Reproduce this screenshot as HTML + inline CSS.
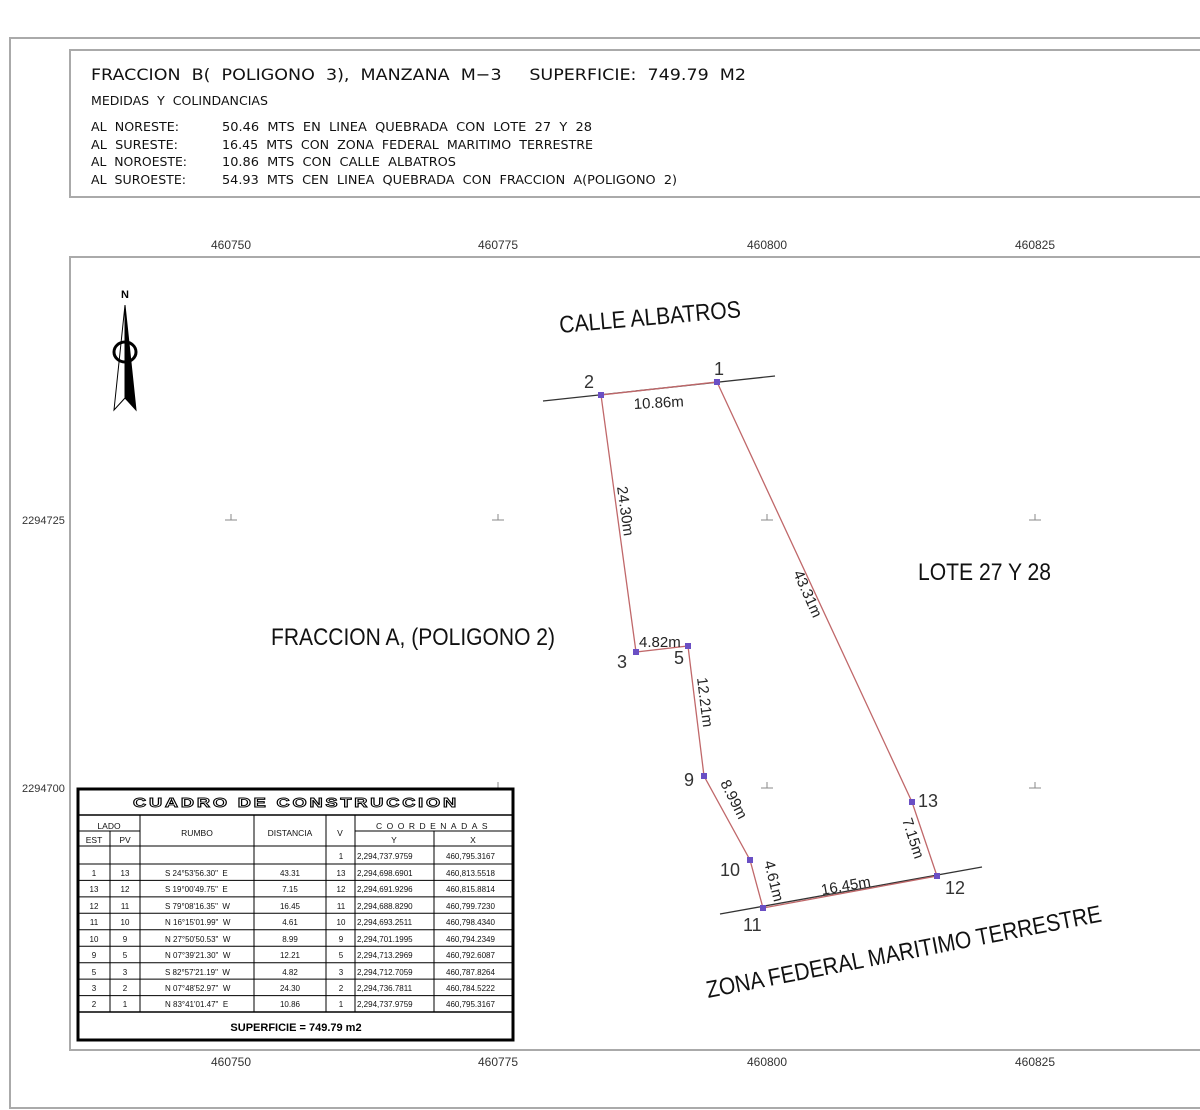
<!DOCTYPE html>
<html><head><meta charset="utf-8"><style>
html,body{margin:0;padding:0;background:#fff;}
svg{display:block;}
text{font-family:"Liberation Sans",sans-serif;white-space:pre;}
.h text{font-family:"DejaVu Sans","Liberation Sans",sans-serif;}
</style></head><body>
<svg width="1200" height="1110" viewBox="0 0 1200 1110" xmlns="http://www.w3.org/2000/svg" xml:space="preserve">
<polyline points="1200,38 10,38 10,1108 1200,1108" fill="none" stroke="#aaa" stroke-width="2"/>
<polyline points="1200,50 70,50 70,197 1200,197" fill="none" stroke="#aaa" stroke-width="2"/>
<polyline points="1200,257 70,257 70,1050 1200,1050" fill="none" stroke="#aaa" stroke-width="2"/>

<g class="h" fill="#111">
<text x="91" y="80" font-size="16" textLength="655" lengthAdjust="spacingAndGlyphs">FRACCION  B(  POLIGONO  3),  MANZANA  M−3     SUPERFICIE:  749.79  M2</text>
<text x="91" y="105" font-size="12" textLength="177" lengthAdjust="spacingAndGlyphs">MEDIDAS  Y  COLINDANCIAS</text>
<text x="91" y="131" font-size="12.5" textLength="88" lengthAdjust="spacingAndGlyphs">AL  NORESTE:</text>
<text x="91" y="149" font-size="12.5" textLength="87" lengthAdjust="spacingAndGlyphs">AL  SURESTE:</text>
<text x="91" y="166" font-size="12.5" textLength="96" lengthAdjust="spacingAndGlyphs">AL  NOROESTE:</text>
<text x="91" y="184" font-size="12.5" textLength="95" lengthAdjust="spacingAndGlyphs">AL  SUROESTE:</text>
<text x="222" y="131" font-size="12.5" textLength="370" lengthAdjust="spacingAndGlyphs">50.46  MTS  EN  LINEA  QUEBRADA  CON  LOTE  27  Y  28</text>
<text x="222" y="149" font-size="12.5" textLength="371" lengthAdjust="spacingAndGlyphs">16.45  MTS  CON  ZONA  FEDERAL  MARITIMO  TERRESTRE</text>
<text x="222" y="166" font-size="12.5" textLength="234" lengthAdjust="spacingAndGlyphs">10.86  MTS  CON  CALLE  ALBATROS</text>
<text x="222" y="184" font-size="12.5" textLength="455" lengthAdjust="spacingAndGlyphs">54.93  MTS  CEN  LINEA  QUEBRADA  CON  FRACCION  A(POLIGONO  2)</text>
</g>

<g font-size="12" fill="#333" text-anchor="middle">
<text x="231" y="249">460750</text><text x="498" y="249">460775</text><text x="767" y="249">460800</text><text x="1035" y="249">460825</text>
<text x="231" y="1066">460750</text><text x="498" y="1066">460775</text><text x="767" y="1066">460800</text><text x="1035" y="1066">460825</text>
</g>
<g font-size="11" fill="#333"><text x="22" y="524">2294725</text><text x="22" y="792">2294700</text></g>
<g stroke="#888" stroke-width="1">
<path d="M225,520h12M231,514v6M492,520h12M498,514v6M761,520h12M767,514v6M1029,520h12M1035,514v6M761,788h12M767,782v6M1029,788h12M1035,782v6M492,788h12M498,782v6"/>
</g>

<text x="125" y="298" font-size="11" font-weight="bold" text-anchor="middle">N</text>
<polygon points="125,305 114,410 125,398" fill="#fff" stroke="#000" stroke-width="1"/>
<polygon points="125,305 136,410 125,398" fill="#000" stroke="#000" stroke-width="1"/>
<ellipse cx="125" cy="352" rx="11" ry="10" fill="none" stroke="#000" stroke-width="3"/>

<line x1="543" y1="401" x2="775" y2="376" stroke="#333" stroke-width="1.3"/>
<line x1="720" y1="914" x2="982" y2="867" stroke="#333" stroke-width="1.3"/>

<polygon points="717,382 912,802 937,876 763,908 750,860 704,776 688,646 636,652 601,395" fill="none" stroke="#c0686a" stroke-width="1.3"/>
<g fill="#6a4fc4">
<rect x="714" y="379" width="6" height="6"/><rect x="598" y="392" width="6" height="6"/><rect x="633" y="649" width="6" height="6"/><rect x="685" y="643" width="6" height="6"/><rect x="701" y="773" width="6" height="6"/><rect x="747" y="857" width="6" height="6"/><rect x="760" y="905" width="6" height="6"/><rect x="934" y="873" width="6" height="6"/><rect x="909" y="799" width="6" height="6"/>
</g>

<g font-size="18" fill="#333">
<text x="714" y="375">1</text><text x="584" y="388">2</text><text x="617" y="668">3</text><text x="674" y="664">5</text><text x="684" y="786">9</text><text x="720" y="876">10</text><text x="743" y="931">11</text><text x="945" y="894">12</text><text x="918" y="807">13</text>
</g>

<g font-size="15" fill="#222">
<text x="634" y="409" transform="rotate(-3 634 409)">10.86m</text>
<text x="617" y="487" transform="rotate(82 617 487)">24.30m</text>
<text x="639" y="647">4.82m</text>
<text x="793" y="573" transform="rotate(66 793 573)">43.31m</text>
<text x="697" y="678" transform="rotate(83 697 678)">12.21m</text>
<text x="720" y="783" transform="rotate(63 720 783)">8.99m</text>
<text x="902" y="820" transform="rotate(72 902 820)">7.15m</text>
<text x="764" y="862" transform="rotate(76 764 862)">4.61m</text>
<text x="822" y="895" transform="rotate(-10 822 895)">16.45m</text>
</g>

<g font-size="24" fill="#111">
<text x="560" y="333" transform="rotate(-5 560 333)" textLength="182" lengthAdjust="spacingAndGlyphs">CALLE ALBATROS</text>
<text x="918" y="580" textLength="133" lengthAdjust="spacingAndGlyphs">LOTE 27 Y 28</text>
<text x="271" y="645" textLength="284" lengthAdjust="spacingAndGlyphs">FRACCION A, (POLIGONO 2)</text>
<text x="708" y="998" transform="rotate(-11 708 998)" textLength="402" lengthAdjust="spacingAndGlyphs">ZONA FEDERAL MARITIMO TERRESTRE</text>
</g>

<rect x="78" y="789" width="435" height="251" fill="#fff" stroke="#000" stroke-width="3"/>
<g stroke="#000" stroke-width="1" fill="none">
<line x1="78" y1="815" x2="513" y2="815" stroke-width="1.5"/>
<line x1="78" y1="846" x2="513" y2="846"/>
<line x1="78" y1="831" x2="140" y2="831"/>
<line x1="355" y1="831" x2="513" y2="831"/>
<line x1="78" y1="864" x2="513" y2="864"/>
<line x1="78" y1="880.4" x2="513" y2="880.4"/><line x1="78" y1="896.9" x2="513" y2="896.9"/><line x1="78" y1="913.3" x2="513" y2="913.3"/><line x1="78" y1="929.8" x2="513" y2="929.8"/><line x1="78" y1="946.2" x2="513" y2="946.2"/><line x1="78" y1="962.7" x2="513" y2="962.7"/><line x1="78" y1="979.1" x2="513" y2="979.1"/><line x1="78" y1="995.6" x2="513" y2="995.6"/>
<line x1="78" y1="1012" x2="513" y2="1012" stroke-width="1.5"/>
<line x1="110" y1="831" x2="110" y2="1012"/>
<line x1="140" y1="815" x2="140" y2="1012"/>
<line x1="254" y1="815" x2="254" y2="1012"/>
<line x1="326" y1="815" x2="326" y2="1012"/>
<line x1="355" y1="815" x2="355" y2="1012"/>
<line x1="434" y1="831" x2="434" y2="1012"/>
</g>
<text x="296" y="807" font-size="13" font-weight="bold" text-anchor="middle" fill="#fff" stroke="#000" stroke-width="0.9" textLength="326" lengthAdjust="spacingAndGlyphs" letter-spacing="2">CUADRO DE CONSTRUCCION</text>
<g font-size="8.5" fill="#111" text-anchor="middle">
<text x="109" y="829">LADO</text><text x="94" y="843">EST</text><text x="125" y="843">PV</text>
<text x="197" y="836">RUMBO</text><text x="290" y="836">DISTANCIA</text><text x="340" y="836">V</text>
<text x="434" y="829" letter-spacing="4.5">COORDENADAS</text><text x="394" y="843">Y</text><text x="473" y="843">X</text>
</g>
<g font-size="8" fill="#111">
<g text-anchor="middle">
<text x="341" y="859">1</text>
<text x="94" y="876">1</text><text x="125" y="876">13</text><text x="290" y="876">43.31</text><text x="341" y="876">13</text>
<text x="94" y="892">13</text><text x="125" y="892">12</text><text x="290" y="892">7.15</text><text x="341" y="892">12</text>
<text x="94" y="909">12</text><text x="125" y="909">11</text><text x="290" y="909">16.45</text><text x="341" y="909">11</text>
<text x="94" y="925">11</text><text x="125" y="925">10</text><text x="290" y="925">4.61</text><text x="341" y="925">10</text>
<text x="94" y="942">10</text><text x="125" y="942">9</text><text x="290" y="942">8.99</text><text x="341" y="942">9</text>
<text x="94" y="958">9</text><text x="125" y="958">5</text><text x="290" y="958">12.21</text><text x="341" y="958">5</text>
<text x="94" y="975">5</text><text x="125" y="975">3</text><text x="290" y="975">4.82</text><text x="341" y="975">3</text>
<text x="94" y="991">3</text><text x="125" y="991">2</text><text x="290" y="991">24.30</text><text x="341" y="991">2</text>
<text x="94" y="1007">2</text><text x="125" y="1007">1</text><text x="290" y="1007">10.86</text><text x="341" y="1007">1</text>
</g>
<text x="165" y="876">S 24°53'56.30"  E</text>
<text x="165" y="892">S 19°00'49.75"  E</text>
<text x="165" y="909">S 79°08'16.35"  W</text>
<text x="165" y="925">N 16°15'01.99"  W</text>
<text x="165" y="942">N 27°50'50.53"  W</text>
<text x="165" y="958">N 07°39'21.30"  W</text>
<text x="165" y="975">S 82°57'21.19"  W</text>
<text x="165" y="991">N 07°48'52.97"  W</text>
<text x="165" y="1007">N 83°41'01.47"  E</text>
<text x="357" y="859">2,294,737.9759</text><text x="446" y="859">460,795.3167</text>
<text x="357" y="876">2,294,698.6901</text><text x="446" y="876">460,813.5518</text>
<text x="357" y="892">2,294,691.9296</text><text x="446" y="892">460,815.8814</text>
<text x="357" y="909">2,294,688.8290</text><text x="446" y="909">460,799.7230</text>
<text x="357" y="925">2,294,693.2511</text><text x="446" y="925">460,798.4340</text>
<text x="357" y="942">2,294,701.1995</text><text x="446" y="942">460,794.2349</text>
<text x="357" y="958">2,294,713.2969</text><text x="446" y="958">460,792.6087</text>
<text x="357" y="975">2,294,712.7059</text><text x="446" y="975">460,787.8264</text>
<text x="357" y="991">2,294,736.7811</text><text x="446" y="991">460,784.5222</text>
<text x="357" y="1007">2,294,737.9759</text><text x="446" y="1007">460,795.3167</text>
</g>
<text x="296" y="1031" font-size="11" font-weight="bold" text-anchor="middle">SUPERFICIE = 749.79 m2</text>
</svg>
</body></html>
